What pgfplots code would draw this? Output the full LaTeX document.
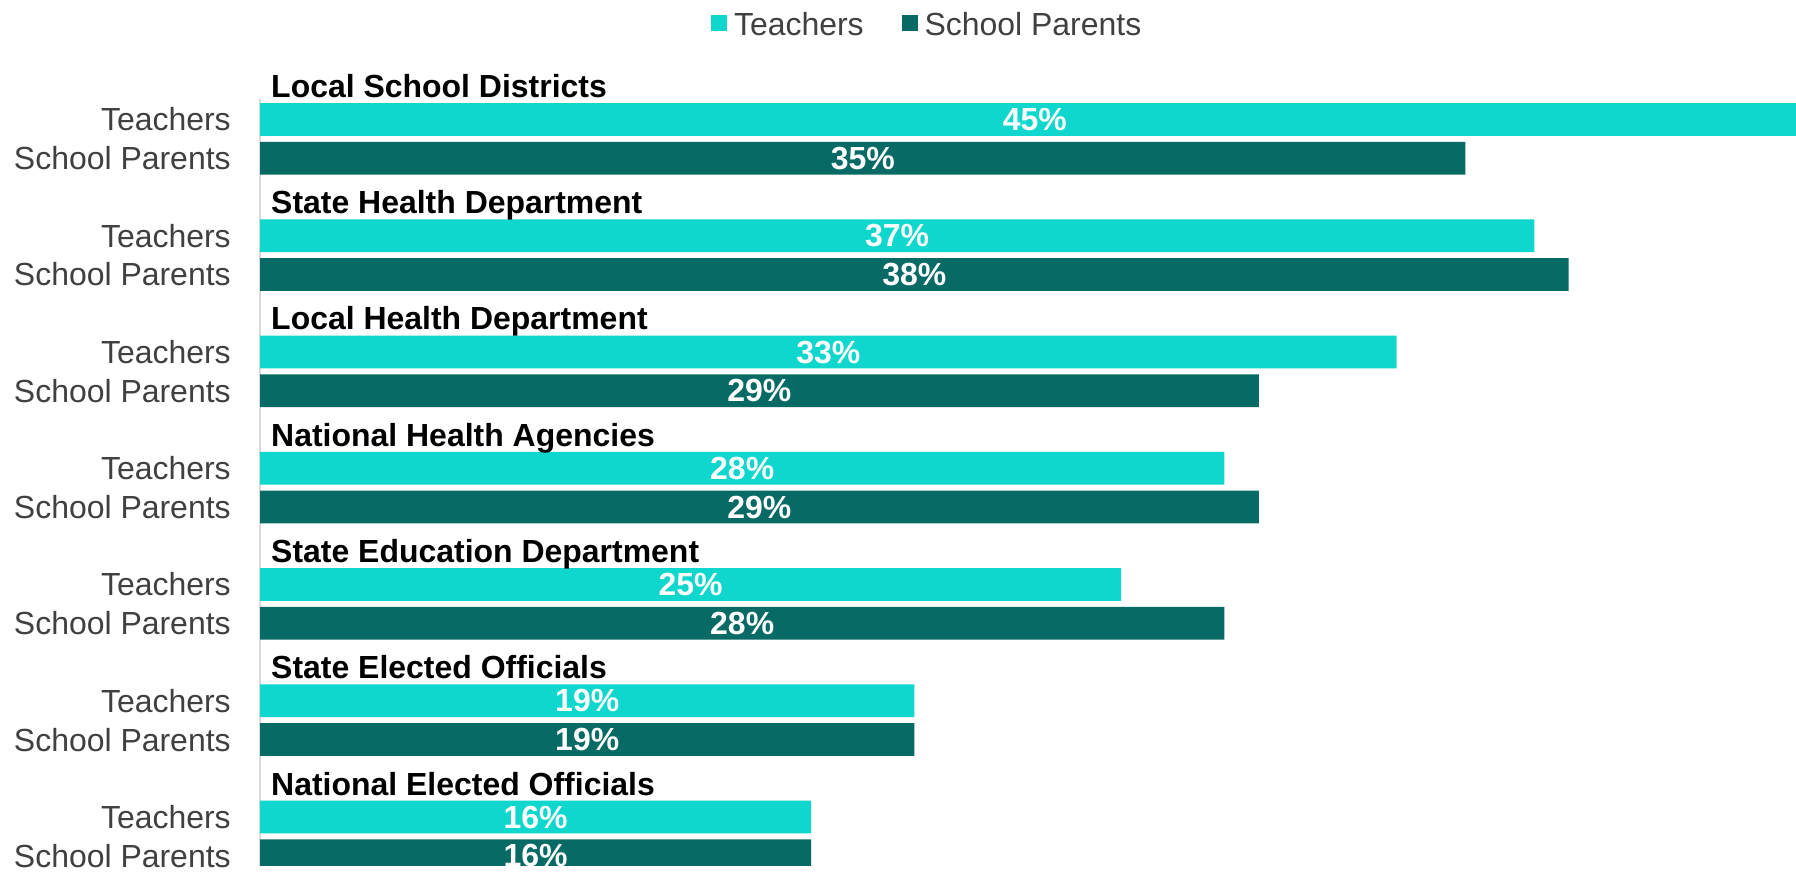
\documentclass[border=0pt]{standalone}
\usepackage{pgfplots}
\pgfplotsset{compat=1.18}
\usepackage{pgfplotstable}
\usepackage{fontspec}
\setmainfont{Liberation Sans}

\definecolor{teach}{HTML}{0FD7CD}
\definecolor{parent}{HTML}{076A65}
\definecolor{lbl}{HTML}{404040}
\definecolor{axgray}{HTML}{D9D9D9}
\newcommand\f{\fontsize{16}{19}\selectfont}

% positions: teachers row, parents row (3 rows per group, row 0 = group title)
\pgfplotstableread{
tpos t  ppos p
1    45 2    35
4    37 5    38
7    33 8    29
10   28 11   29
13   25 14   28
16   19 17   19
19   16 20   16
}\trust

\begin{document}
\begin{tikzpicture}
\begin{axis}[
    scale only axis,
    width=769pt, height=384pt,
    xmin=0, xmax=44.6,
    ymin=0.47, ymax=20.26,
    y dir=reverse,
    clip mode=individual,
    axis x line=none,
    axis y line*=left,
    axis line style={draw=axgray, line width=0.8pt},
    xtick=\empty,
    ytick={1,2,4,5,7,8,10,11,13,14,16,17,19,20},
    yticklabels={Teachers,School Parents,Teachers,School Parents,Teachers,School Parents,
      Teachers,School Parents,Teachers,School Parents,Teachers,School Parents,Teachers,School Parents},
    major tick length=0pt,
    yticklabel style={font=\f, text=lbl, inner sep=0pt},
    yticklabel shift=14.5pt,
    /pgf/number format/assume math mode=true,
    legend style={at={(0.435,1)}, anchor=center, yshift=37pt, draw=none, fill=none,
      font=\f, text=lbl, legend columns=2,
      /tikz/every odd column/.append style={column sep=1.5pt},
      /tikz/every even column/.append style={column sep=17pt}},
    legend cell align=left,
]
\addplot[xbar, bar shift=0pt, bar width=0.845, fill=teach, draw=none,
  legend image code/.code={\fill[teach] (0pt,-3pt) rectangle (8pt,5pt);}]
  table[x=t, y=tpos] {\trust};
\addlegendentry{Teachers}
\addplot[xbar, bar shift=0pt, bar width=0.845, fill=parent, draw=none,
  legend image code/.code={\fill[parent] (0pt,-3pt) rectangle (8pt,5pt);}]
  table[x=p, y=ppos] {\trust};
\addlegendentry{School Parents}

% value labels centred in the bars
\addplot[draw=none, mark=none, forget plot, point meta=explicit,
  nodes near coords={\pgfmathprintnumber{\pgfplotspointmeta}\%},
  every node near coord/.append style={anchor=center, font=\f\bfseries, text=white}]
  table[x expr=\thisrow{t}/2, y=tpos, meta=t] {\trust};
\addplot[draw=none, mark=none, forget plot, point meta=explicit,
  nodes near coords={\pgfmathprintnumber{\pgfplotspointmeta}\%},
  every node near coord/.append style={anchor=center, font=\f\bfseries, text=white}]
  table[x expr=\thisrow{p}/2, y=ppos, meta=p] {\trust};

% group titles
\tikzset{grp/.style={anchor=base west, inner sep=0pt, xshift=5.4pt, font=\f\bfseries}}
\node[grp] at (axis cs:0,0.43)  {Local School Districts};
\node[grp] at (axis cs:0,3.43)  {State Health Department};
\node[grp] at (axis cs:0,6.43)  {Local Health Department};
\node[grp] at (axis cs:0,9.43)  {National Health Agencies};
\node[grp] at (axis cs:0,12.43) {State Education Department};
\node[grp] at (axis cs:0,15.43) {State Elected Officials};
\node[grp] at (axis cs:0,18.43) {National Elected Officials};
\end{axis}
% page: 7pt left margin, a little room above the legend, bottom just under the last labels
\coordinate (tl) at ([xshift=-7pt, yshift=2pt]current bounding box.north west);
\pgfresetboundingbox
\path (tl) rectangle ([yshift=-4pt]current axis.south east);
\end{tikzpicture}
\end{document}
